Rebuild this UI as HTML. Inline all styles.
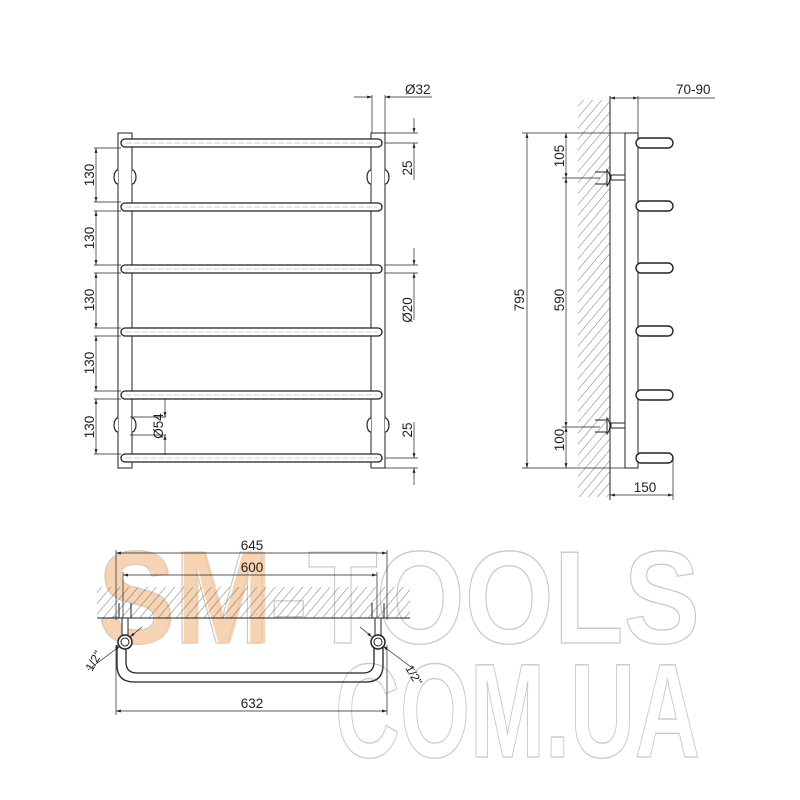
<!DOCTYPE html>
<html><head><meta charset="utf-8"><style>
html,body{margin:0;padding:0;background:#fff}
svg{display:block}
text{font-family:"Liberation Sans",sans-serif;fill:#222}
</style></head><body>
<svg width="800" height="800" viewBox="0 0 800 800" xmlns="http://www.w3.org/2000/svg">
<defs>
<pattern id="h" width="7" height="7" patternUnits="userSpaceOnUse" patternTransform="rotate(40)">
<line x1="0" y1="0" x2="0" y2="7" stroke="#555" stroke-width="0.8"/>
</pattern>
<marker id="a" viewBox="0 0 10 10" refX="10" refY="5" markerWidth="7" markerHeight="7" orient="auto-start-reverse"><path d="M0,2 L10,5 L0,8 z" fill="#222"/></marker>
</defs>

<!-- watermark -->
<text x="98" y="643" font-size="132" font-weight="bold" textLength="602" lengthAdjust="spacingAndGlyphs" stroke="#c8c8c8" stroke-width="1.3" style="fill:none">SM-TOOLS</text>
<text x="98" y="643" font-size="132" font-weight="bold" textLength="175" lengthAdjust="spacingAndGlyphs" style="fill:#f5c9a0;opacity:0.8">SM</text>
<text x="335" y="757" font-size="134" font-weight="bold" textLength="365" lengthAdjust="spacingAndGlyphs" stroke="#c8c8c8" stroke-width="1.3" style="fill:none">COM.UA</text>

<g stroke="#222" stroke-width="1" fill="none">
<!-- FRONT VIEW -->
<rect x="118" y="133" width="14" height="335" fill="#fff"/>
<rect x="371" y="133" width="14" height="335" fill="#fff"/>
<g fill="#fff" stroke-width="1.2">
<path d="M118,170 a4,7 0 0 0 0,14 M132,170 a4,7 0 0 1 0,14 M371,170 a4,7 0 0 0 0,14 M385,170 a4,7 0 0 1 0,14"/>
<path d="M118,418 a4,7 0 0 0 0,14 M132,418 a4,7 0 0 1 0,14 M371,418 a4,7 0 0 0 0,14 M385,418 a4,7 0 0 1 0,14"/>
</g>
<g stroke-width="1.3" fill="#fff">
<rect x="121" y="139" width="261" height="8" rx="4"/>
<rect x="121" y="203" width="261" height="8" rx="4"/>
<rect x="121" y="265" width="261" height="8" rx="4"/>
<rect x="121" y="328" width="261" height="8" rx="4"/>
<rect x="121" y="391" width="261" height="8" rx="4"/>
<rect x="121" y="454" width="261" height="8" rx="4"/>
</g>
<g stroke="#999" stroke-width="0.6" stroke-dasharray="6,2">
<line x1="126" y1="143" x2="377" y2="143"/><line x1="126" y1="207" x2="377" y2="207"/>
<line x1="126" y1="269" x2="377" y2="269"/><line x1="126" y1="332" x2="377" y2="332"/>
<line x1="126" y1="395" x2="377" y2="395"/><line x1="126" y1="458" x2="377" y2="458"/>
</g>
<g stroke-width="0.7">
<line x1="94" y1="148" x2="121" y2="148"/><line x1="94" y1="202" x2="121" y2="202"/>
<line x1="94" y1="211" x2="121" y2="211"/><line x1="94" y1="265" x2="121" y2="265"/>
<line x1="94" y1="273" x2="121" y2="273"/><line x1="94" y1="328" x2="121" y2="328"/>
<line x1="94" y1="336" x2="121" y2="336"/><line x1="94" y1="391" x2="121" y2="391"/>
<line x1="94" y1="399" x2="121" y2="399"/><line x1="94" y1="454" x2="121" y2="454"/>
<line x1="96" y1="148" x2="96" y2="202" marker-start="url(#a)" marker-end="url(#a)"/>
<line x1="96" y1="211" x2="96" y2="265" marker-start="url(#a)" marker-end="url(#a)"/>
<line x1="96" y1="273" x2="96" y2="328" marker-start="url(#a)" marker-end="url(#a)"/>
<line x1="96" y1="336" x2="96" y2="391" marker-start="url(#a)" marker-end="url(#a)"/>
<line x1="96" y1="399" x2="96" y2="454" marker-start="url(#a)" marker-end="url(#a)"/>
<line x1="130" y1="417" x2="166" y2="417"/><line x1="130" y1="435" x2="166" y2="435"/>
<line x1="165" y1="398" x2="165" y2="417" marker-end="url(#a)"/>
<line x1="165" y1="455" x2="165" y2="435" marker-end="url(#a)"/>
<line x1="372" y1="95" x2="372" y2="133"/><line x1="385" y1="95" x2="385" y2="133"/>
<line x1="354" y1="97" x2="372" y2="97" marker-end="url(#a)"/>
<line x1="432" y1="97" x2="385" y2="97" marker-end="url(#a)"/>
<line x1="385" y1="133" x2="418" y2="133"/><line x1="385" y1="143" x2="418" y2="143"/>
<line x1="414" y1="118" x2="414" y2="133" marker-end="url(#a)"/>
<line x1="414" y1="180" x2="414" y2="143" marker-end="url(#a)"/>
<line x1="385" y1="265" x2="418" y2="265"/><line x1="385" y1="273" x2="418" y2="273"/>
<line x1="414" y1="248" x2="414" y2="265" marker-end="url(#a)"/>
<line x1="414" y1="320" x2="414" y2="273" marker-end="url(#a)"/>
<line x1="385" y1="458" x2="418" y2="458"/><line x1="385" y1="468" x2="418" y2="468"/>
<line x1="414" y1="422" x2="414" y2="458" marker-end="url(#a)"/>
<line x1="414" y1="485" x2="414" y2="468" marker-end="url(#a)"/>
</g>

<!-- SIDE VIEW -->
<rect x="578" y="100" width="32" height="397" fill="url(#h)" stroke="none"/>
<line x1="610" y1="96" x2="610" y2="500"/>
<rect x="625" y="133" width="13" height="335" fill="#fff"/>
<g stroke-width="1.4" fill="#fff">
<rect x="636" y="138" width="37" height="10" rx="5"/>
<rect x="636" y="201" width="37" height="10" rx="5"/>
<rect x="636" y="263" width="37" height="10" rx="5"/>
<rect x="636" y="326" width="37" height="10" rx="5"/>
<rect x="636" y="390" width="37" height="10" rx="5"/>
<rect x="636" y="453" width="37" height="10" rx="5"/>
</g>
<g fill="#fff" stroke-width="1">
<path d="M607,170 q6,8 0,16 z"/><rect x="611" y="175" width="14" height="5"/>
<line x1="595" y1="172" x2="607" y2="172"/><line x1="595" y1="184" x2="607" y2="184"/>
<path d="M607,418 q6,8 0,16 z"/><rect x="611" y="423" width="14" height="5"/>
<line x1="595" y1="420" x2="607" y2="420"/><line x1="595" y1="432" x2="607" y2="432"/>
</g>
<g stroke-width="0.7">
<line x1="522" y1="133" x2="625" y2="133"/><line x1="522" y1="468" x2="625" y2="468"/>
<line x1="527" y1="133" x2="527" y2="468" marker-start="url(#a)" marker-end="url(#a)"/>
<line x1="562" y1="178" x2="600" y2="178"/><line x1="562" y1="427" x2="600" y2="427"/>
<line x1="566" y1="133" x2="566" y2="178" marker-start="url(#a)" marker-end="url(#a)"/>
<line x1="566" y1="178" x2="566" y2="427" marker-start="url(#a)" marker-end="url(#a)"/>
<line x1="566" y1="427" x2="566" y2="468" marker-start="url(#a)" marker-end="url(#a)"/>
<line x1="638" y1="96" x2="638" y2="133"/>
<line x1="610" y1="98" x2="638" y2="98" marker-start="url(#a)" marker-end="url(#a)"/>
<line x1="638" y1="98" x2="715" y2="98"/>
<line x1="673" y1="458" x2="673" y2="500"/>
<line x1="610" y1="495" x2="673" y2="495" marker-start="url(#a)" marker-end="url(#a)"/>
</g>

<!-- BOTTOM VIEW -->
<rect x="97" y="587" width="313" height="31" fill="url(#h)" stroke="none"/>
<line x1="97" y1="618" x2="410" y2="618"/>
<g stroke-width="0.7">
<line x1="116" y1="550" x2="116" y2="620"/><line x1="387" y1="550" x2="387" y2="620"/>
<line x1="116" y1="553" x2="387" y2="553" marker-start="url(#a)" marker-end="url(#a)"/>
<line x1="123" y1="572" x2="123" y2="620"/><line x1="377" y1="572" x2="377" y2="620"/>
<line x1="123" y1="575" x2="377" y2="575" marker-start="url(#a)" marker-end="url(#a)"/>
<line x1="116" y1="645" x2="116" y2="715"/><line x1="387" y1="645" x2="387" y2="715"/>
<line x1="116" y1="711" x2="387" y2="711" marker-start="url(#a)" marker-end="url(#a)"/>
<line x1="88" y1="670" x2="120" y2="646" marker-end="url(#a)"/>
<line x1="142" y1="627" x2="130" y2="637" marker-end="url(#a)"/>
<line x1="415" y1="670" x2="383" y2="646" marker-end="url(#a)"/>
<line x1="360" y1="627" x2="372" y2="637" marker-end="url(#a)"/>
</g>
<g fill="#fff">
<rect x="122" y="618" width="6" height="20"/><rect x="375" y="618" width="6" height="20"/>
<line x1="119" y1="603" x2="119" y2="618"/><line x1="131" y1="603" x2="131" y2="618"/>
<line x1="372" y1="603" x2="372" y2="618"/><line x1="384" y1="603" x2="384" y2="618"/>
</g>
<path d="M117,645 V665 Q117,682 134,682 H366 Q383,682 383,665 V645 M126,647 V662 Q126,673 137,673 H363 Q374,673 374,662 V647" stroke-width="1.3"/>
<circle cx="125" cy="642" r="7" fill="#fff" stroke-width="1.5"/><circle cx="125" cy="642" r="4"/>
<circle cx="378" cy="642" r="7" fill="#fff" stroke-width="1.5"/><circle cx="378" cy="642" r="4"/>
</g>

<g font-size="13.5">
<text transform="translate(94,175) rotate(-90)" text-anchor="middle">130</text>
<text transform="translate(94,238) rotate(-90)" text-anchor="middle">130</text>
<text transform="translate(94,300) rotate(-90)" text-anchor="middle">130</text>
<text transform="translate(94,363) rotate(-90)" text-anchor="middle">130</text>
<text transform="translate(94,427) rotate(-90)" text-anchor="middle">130</text>
<text transform="translate(163,426) rotate(-90)" text-anchor="middle">Ø54</text>
<text x="405" y="94">Ø32</text>
<text transform="translate(412,168) rotate(-90)" text-anchor="middle">25</text>
<text transform="translate(412,310) rotate(-90)" text-anchor="middle">Ø20</text>
<text transform="translate(412,430) rotate(-90)" text-anchor="middle">25</text>
<text transform="translate(524,300) rotate(-90)" text-anchor="middle">795</text>
<text transform="translate(564,300) rotate(-90)" text-anchor="middle">590</text>
<text transform="translate(564,156) rotate(-90)" text-anchor="middle">105</text>
<text transform="translate(564,440) rotate(-90)" text-anchor="middle">100</text>
<text x="676" y="94">70-90</text>
<text x="645" y="492" text-anchor="middle">150</text>
<text x="252" y="550" text-anchor="middle">645</text>
<text x="252" y="572" text-anchor="middle">600</text>
<text x="252" y="708" text-anchor="middle">632</text>
<text transform="translate(92,672) rotate(-60)" font-size="12">1/2"</text>
<text transform="translate(405,668) rotate(60)" font-size="12">1/2"</text>
</g>
</svg>
</body></html>
